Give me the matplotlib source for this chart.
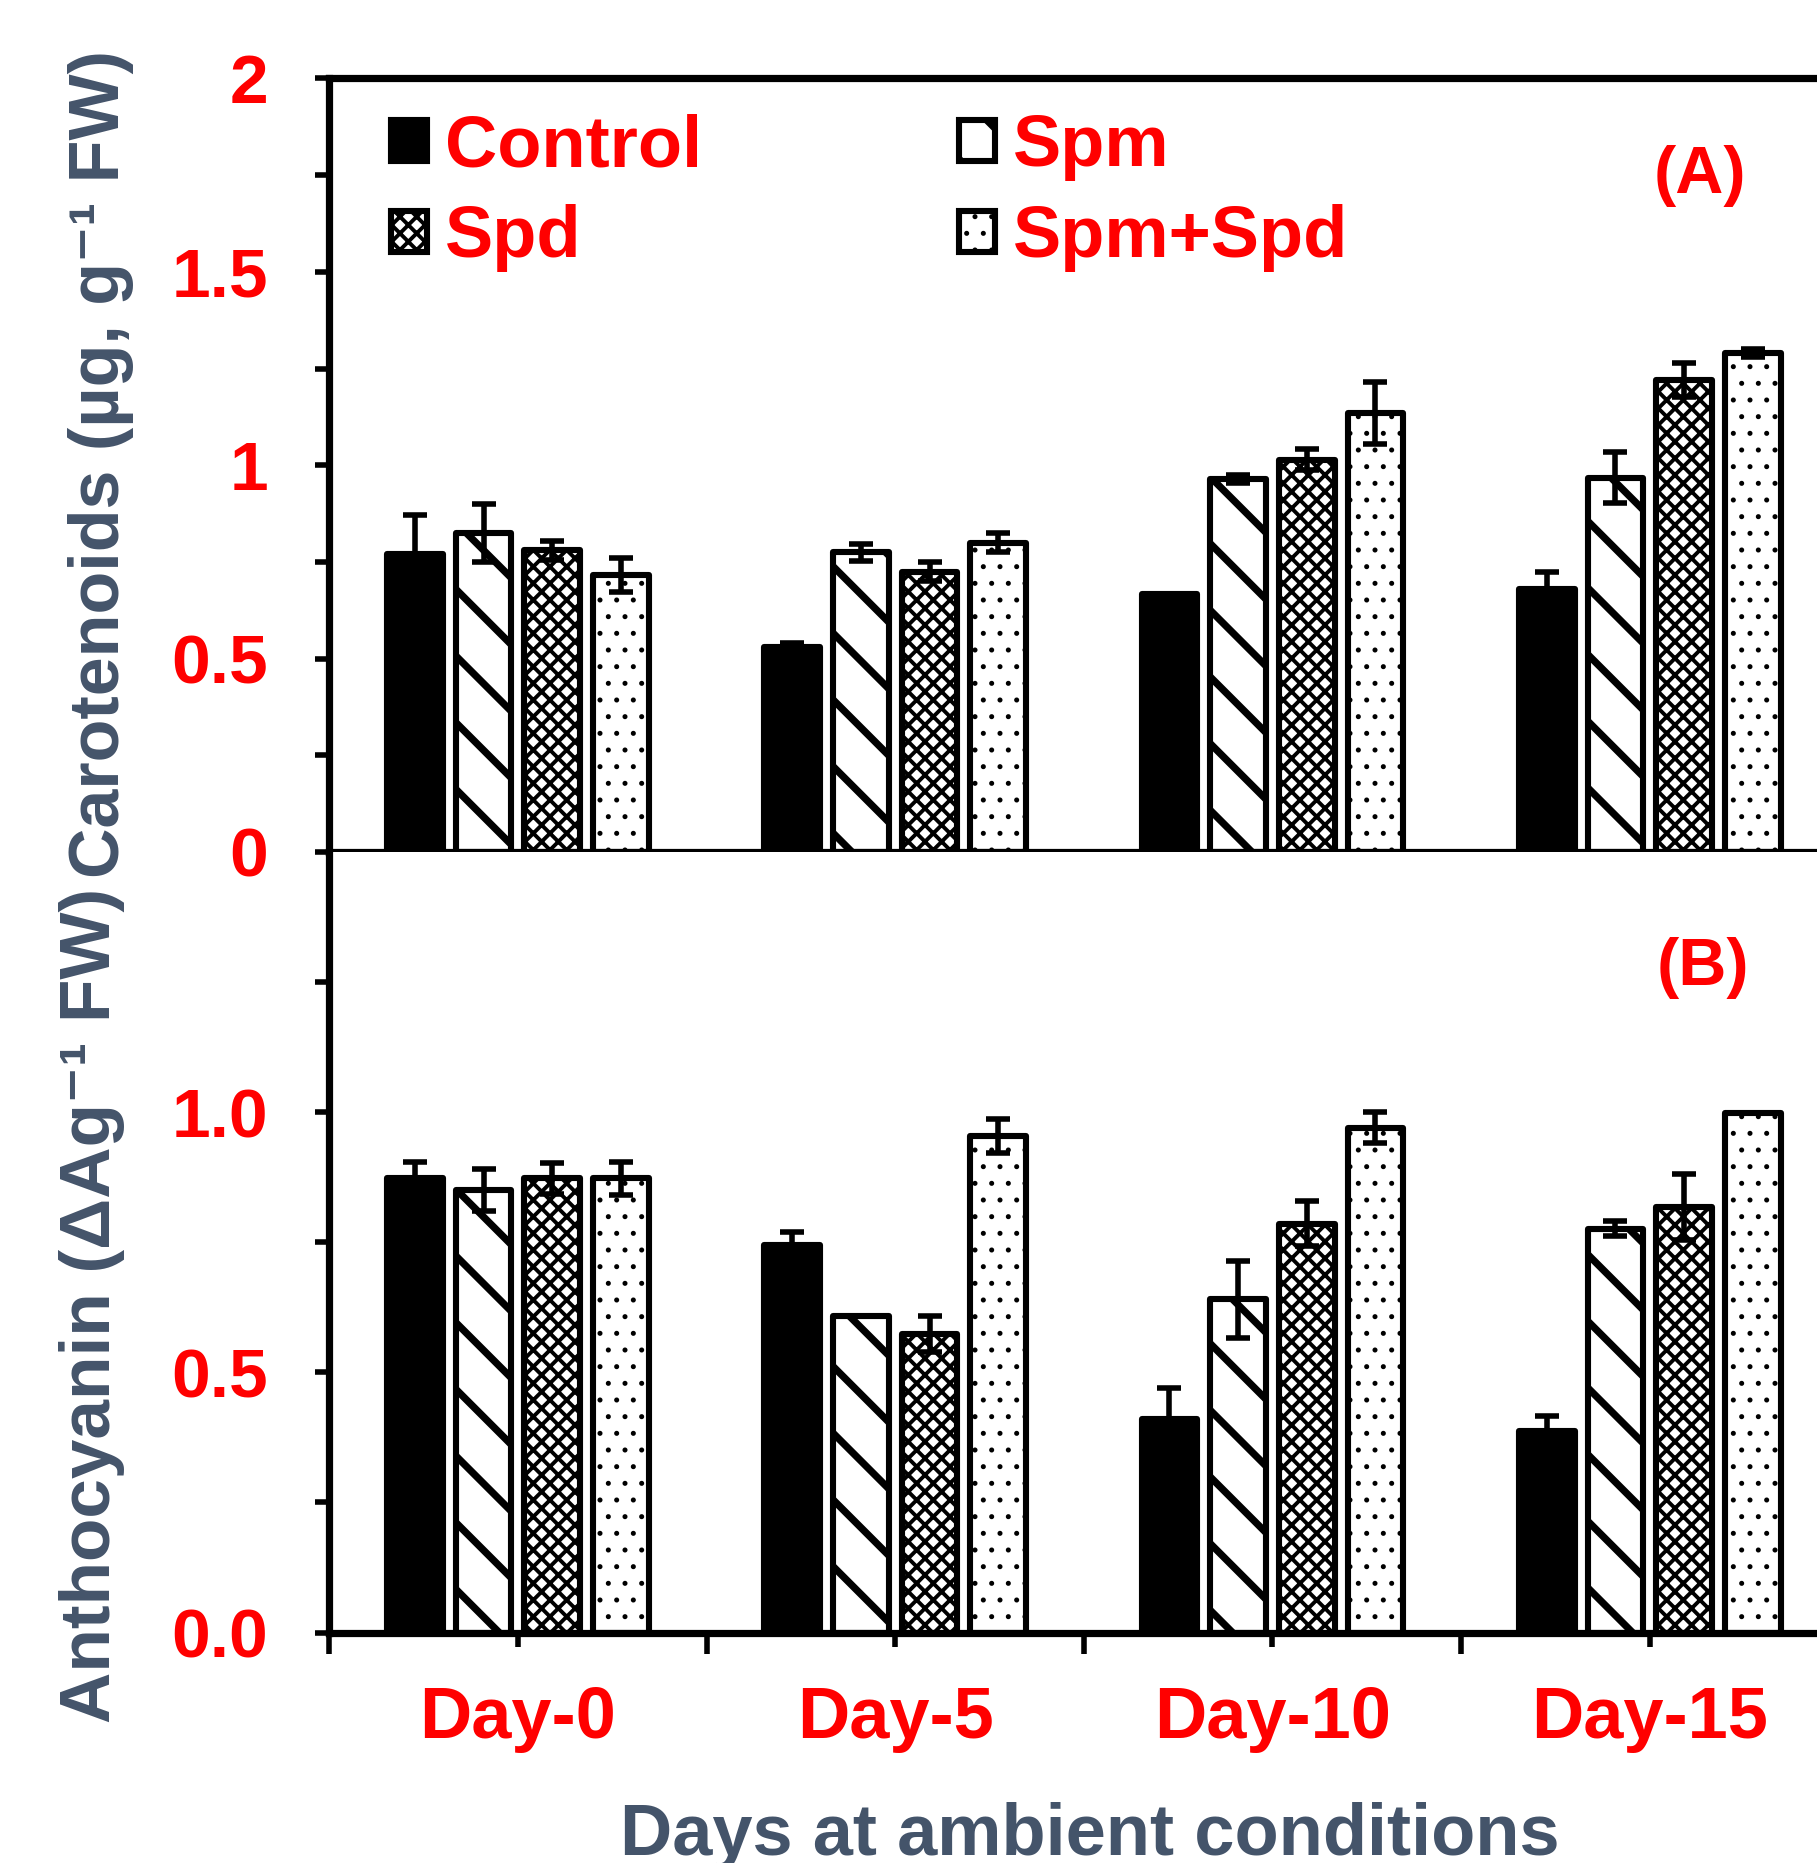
import numpy as np
import matplotlib as mpl
import matplotlib.pyplot as plt
from matplotlib.ticker import MultipleLocator, FixedLocator, FuncFormatter
from matplotlib.patches import Patch

# ----- data -----
days = ["Day-0", "Day-5", "Day-10", "Day-15"]
treatments = ["Control", "Spm", "Spd", "Spm+Spd"]

# (A) Carotenoids
carot_control = [0.77, 0.53, 0.667, 0.68]
carot_spm     = [0.825, 0.775, 0.965, 0.968]
carot_spd     = [0.78, 0.725, 1.014, 1.22]
carot_spmspd  = [0.716, 0.80, 1.134, 1.29]
carot_control_err = [0.10, 0.01, 0.0, 0.043]
carot_spm_err     = [0.075, 0.022, 0.01, 0.065]
carot_spd_err     = [0.025, 0.025, 0.027, 0.043]
carot_spmspd_err  = [0.045, 0.025, 0.08, 0.01]

# (B) Anthocyanin
antho_control = [0.873, 0.744, 0.41, 0.387]
antho_spm     = [0.85, 0.608, 0.64, 0.776]
antho_spd     = [0.873, 0.574, 0.786, 0.818]
antho_spmspd  = [0.873, 0.954, 0.97, 0.998]
antho_control_err = [0.032, 0.025, 0.06, 0.03]
antho_spm_err     = [0.04, 0.0, 0.074, 0.014]
antho_spd_err     = [0.03, 0.034, 0.044, 0.064]
antho_spmspd_err  = [0.032, 0.032, 0.03, 0.0]

RED = "#FF0000"
SLATE = "#44546A"
FONT = "Liberation Sans"

mpl.rcParams.update({
    "font.family": [FONT, "DejaVu Sans"],
    "font.weight": "bold",
    "figure.facecolor": "white",
})

# face, hatch, hatch linewidth
STYLE = {
    "Control": ("black", None, 1.0),
    "Spm":     ("white", "\\", 2.6),
    "Spd":     ("white", "xxxx", 1.4),
    "Spm+Spd": ("white", "..", 0.6),
}


def hatch_lw(artist, lw):
    # hatch linewidth is taken from rcParams when the patch is drawn
    if hasattr(artist, "set_hatch_linewidth"):
        artist.set_hatch_linewidth(lw)
    orig = artist.draw

    def draw(renderer, _orig=orig, _lw=lw):
        with mpl.rc_context({"hatch.linewidth": _lw}):
            _orig(renderer)
    artist.draw = draw


fig = plt.figure(figsize=(1817 / 200, 1863 / 200), dpi=200)
ax_a = fig.add_axes([0.1812, 0.5427, 0.8306, 0.4152])
ax_b = fig.add_axes([0.1812, 0.1237, 0.8306, 0.4190])

x = np.arange(len(days))
STEP = 0.182
WIDTH = 0.147
EDGE_LW = 2.2
SPINE_LW = 2.6


def draw_panel(ax, series, errs):
    for i, (name, vals, err) in enumerate(zip(treatments, series, errs)):
        face, hatch, hlw = STYLE[name]
        xs = x + (i - 1.5) * STEP
        bars = ax.bar(xs, vals, WIDTH, color=face, edgecolor="black",
                      linewidth=EDGE_LW, hatch=hatch, joinstyle="round",
                      zorder=2)
        for b in bars:
            hatch_lw(b, hlw)
        ax.errorbar(xs, vals, yerr=err, fmt="none", ecolor="black",
                    elinewidth=2.0, capsize=4.3, capthick=2.0, zorder=3)
    ax.set_xlim(-0.5, len(days) - 0.5)
    for s in ("left", "bottom", "top", "right"):
        ax.spines[s].set_linewidth(SPINE_LW)
    ax.spines["right"].set_visible(False)
    ax.tick_params(axis="y", which="both", direction="out", length=5,
                   width=2.0, pad=17, labelsize=25, labelcolor=RED)


draw_panel(ax_a,
           [carot_control, carot_spm, carot_spd, carot_spmspd],
           [carot_control_err, carot_spm_err, carot_spd_err, carot_spmspd_err])
draw_panel(ax_b,
           [antho_control, antho_spm, antho_spd, antho_spmspd],
           [antho_control_err, antho_spm_err, antho_spd_err, antho_spmspd_err])

# panel A axes
ax_a.set_ylim(0, 2)
ax_a.yaxis.set_major_locator(MultipleLocator(0.5))
ax_a.yaxis.set_minor_locator(MultipleLocator(0.25))
ax_a.yaxis.set_major_formatter(FuncFormatter(lambda v, p: f"{v:g}"))
ax_a.tick_params(axis="x", which="both", bottom=False, labelbottom=False)

# panel B axes
ax_b.set_ylim(0, 1.5)
ax_b.spines["top"].set_visible(False)
ax_b.yaxis.set_major_locator(FixedLocator([0.0, 0.5, 1.0]))
ax_b.yaxis.set_minor_locator(FixedLocator([0.25, 0.75, 1.25]))
ax_b.yaxis.set_major_formatter(FuncFormatter(lambda v, p: f"{v:.1f}"))
ax_b.set_xticks(x)
ax_b.set_xticklabels(days)
ax_b.xaxis.set_minor_locator(FixedLocator(np.arange(-0.5, len(days), 1.0)))
ax_b.tick_params(axis="x", which="major", direction="out", length=5,
                 width=2.0, pad=14, labelsize=26, labelcolor=RED)
ax_b.tick_params(axis="x", which="minor", direction="out", length=7.5,
                 width=2.0)
for lab in ax_b.get_xticklabels() + ax_b.get_yticklabels() + ax_a.get_yticklabels():
    lab.set_fontweight("bold")

# panel tags
ax_a.text(0.908, 0.874, "(A)", transform=ax_a.transAxes, ha="center",
          va="center", fontsize=24, fontweight="bold", color=RED)
ax_b.text(0.910, 0.851, "(B)", transform=ax_b.transAxes, ha="center",
          va="center", fontsize=24, fontweight="bold", color=RED)

# legend
handles = []
for name in ["Control", "Spd", "Spm", "Spm+Spd"]:
    face, hatch, hlw = STYLE[name]
    handles.append(Patch(facecolor=face, edgecolor="black", hatch=hatch,
                         linewidth=EDGE_LW, label=name))
leg = ax_a.legend(handles=handles, loc="upper left",
                  bbox_to_anchor=(0.041, 0.955), ncol=2, frameon=False,
                  borderpad=0, borderaxespad=0, handlelength=0.5,
                  handleheight=0.5, handletextpad=0.25, columnspacing=3.55,
                  labelspacing=0.32, prop={"family": FONT, "weight": "bold",
                                           "size": 26})
for t in leg.get_texts():
    t.set_color(RED)
for name, h in zip(["Control", "Spd", "Spm", "Spm+Spd"], leg.legend_handles):
    hatch_lw(h, STYLE[name][2])

# axis titles
fig.text(0.0556, 0.7512, "Carotenoids (µg, g⁻¹ FW)", rotation=90,
         ha="center", va="center", fontsize=25.2, fontweight="bold",
         color=SLATE)
fig.text(0.0507, 0.2995, "Anthocyanin (ΔAg⁻¹ FW)", rotation=90,
         ha="center", va="center", fontsize=25.6, fontweight="bold",
         color=SLATE)
fig.text(0.5997, 0.0045, "Days at ambient conditions", ha="center",
         va="baseline", fontsize=26, fontweight="bold", color=SLATE)

fig.savefig("out.png", dpi=200, facecolor="white")
